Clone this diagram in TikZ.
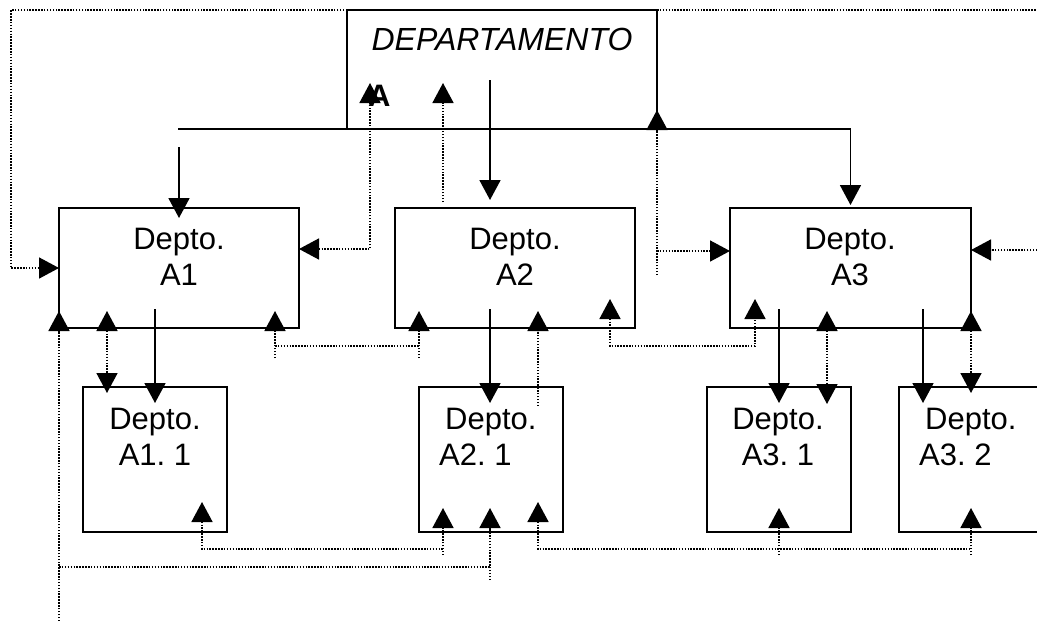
\documentclass[tikz,border=0pt]{standalone}
\usepackage{fontspec}
\setmainfont{Liberation Sans}
\usetikzlibrary{arrows.meta}
\frenchspacing
\begin{document}
\begin{tikzpicture}[x=1pt,y=-1pt,
  box/.style={draw,line width=2pt,inner sep=0pt,outer sep=0pt,anchor=north west},
  lbl/.style={align=center,anchor=base,inner sep=0pt,font=\fontsize{31}{36}\selectfont},
  tipT/.tip={Triangle[length=20pt,width=21pt]},
  sarr/.style={line width=1.8pt,-tipT},
  dl/.style={line width=1.6pt,dash pattern=on 1.5pt off 1.4pt},
  darr/.style={dl,-tipT},
  darr2/.style={dl,tipT-tipT},
  dstart/.style={dl,tipT-}]
\useasboundingbox (0,0) rectangle (1037,621);
\clip (0,0) rectangle (1037,621);
\fill[white] (0,0) rectangle (1037,621);
% boxes
\node[box,minimum width=310pt,minimum height=119pt] (dep) at (347,10) {};
\node[box,minimum width=240pt,minimum height=120pt] (a1) at (59,208) {};
\node[box,minimum width=240pt,minimum height=120pt] (a2) at (395,208) {};
\node[box,minimum width=241pt,minimum height=120pt] (a3) at (730,208) {};
\node[box,minimum width=144pt,minimum height=145pt] (a11) at (83,387) {};
\node[box,minimum width=144pt,minimum height=145pt] (a21) at (419,387) {};
\node[box,minimum width=144pt,minimum height=145pt] (a31) at (707,387) {};
\node[box,minimum width=160pt,minimum height=145pt] (a32) at (899,387) {};
% texts (anchor base = baseline of the last line)
\node[lbl,font=\fontsize{32}{36}\selectfont\itshape] (deptxt) at (502,50) {DEPARTAMENTO};
\node[inner sep=0pt,anchor=base west,font=\fontsize{31}{36}\selectfont\bfseries] (depA) at (368,106) {A};
\node[lbl] (a1t) at (179,285) {Depto.\\A1};
\node[lbl] (a2t) at (515,285) {Depto.\\A2};
\node[lbl] (a3t) at (850,285) {Depto.\\A3};
\node[lbl] (a11t) at (155,465) {Depto.\\A1. 1};
\node[lbl,align=left,anchor=base west] (a21t) at (439,465) {\hspace{6pt}Depto.\\A2. 1};
\node[lbl] (a31t) at (778,465) {Depto.\\A3. 1};
\node[lbl,align=left,anchor=base west] (a32t) at (919,465) {\hspace{6pt}Depto.\\A3. 2};
% free ends
\coordinate (busL) at (178,129);
\coordinate (tl) at (11,10);
\coordinate (tr) at (1037,10);
\coordinate (rr) at (1037,250);
\coordinate (v6) at (657,275);
\coordinate (j6) at (657,251);
\coordinate (bl) at (59,621);
\coordinate (j9) at (59,567);
% solid connectors
\draw[sarr] (busL) -- (busL -| a3.north) -- ([yshift=3pt]a3.north);
\draw[sarr] ([yshift=61pt]a1.north) -- ([yshift=-10pt]a1.north);
\draw[sarr] ([xshift=143pt,yshift=49pt]dep.south west) -- ([xshift=95pt,yshift=8pt]a2.north west);
\draw[sarr] ([xshift=96pt,yshift=19pt]a1.south west) -- ([xshift=72pt,yshift=-16pt]a11.north west);
\draw[sarr] ([xshift=95pt,yshift=19pt]a2.south west) -- ([xshift=71pt,yshift=-16pt]a21.north west);
\draw[sarr] ([xshift=49pt,yshift=19pt]a3.south west) -- ([xshift=72pt,yshift=-16pt]a31.north west);
\draw[sarr] ([xshift=193pt,yshift=19pt]a3.south west) -- ([xshift=24pt,yshift=-16pt]a32.north west);
% dotted connectors
\draw[darr] (dep.north west) -- (tl) |- (a1.west);
\draw[dl] (dep.north east) -- (tr);
\draw[darr] (rr) -- (rr -| a3.east);
\draw[darr2] ([yshift=19pt]a1.east) -| ([xshift=23pt,yshift=46pt]dep.south west);
\draw[darr] ([xshift=48pt,yshift=6pt]a2.north west) -- ([xshift=96pt,yshift=46pt]dep.south west);
\draw[darr] (v6) -- ([yshift=19pt]dep.south east);
\draw[darr] (j6) -- (j6 -| a3.west);
\draw[darr] ([xshift=-24pt,yshift=-30pt]a1.south east) -- ([xshift=-24pt,yshift=17pt]a1.south east);
\draw[darr] ([xshift=24pt,yshift=-30pt]a2.south west) -- ([xshift=24pt,yshift=17pt]a2.south west);
\draw[dl] ([xshift=-24pt,yshift=-18pt]a1.south east) -- ([xshift=24pt,yshift=-18pt]a2.south west);
\draw[darr2] ([xshift=-25pt,yshift=29pt]a2.south east) -- ([xshift=-25pt,yshift=-18pt]a2.south east) -- ([xshift=25pt,yshift=-18pt]a3.south west) -- ([xshift=25pt,yshift=29pt]a3.south west);
\draw[darr] (bl) -- ([yshift=17pt]a1.south west);
\draw[dl] (j9) -- ([xshift=71pt,yshift=-35pt]a21.south west);
\draw[darr] ([xshift=71pt,yshift=-48pt]a21.south west) -- ([xshift=71pt,yshift=24pt]a21.south west);
\draw[darr2] ([xshift=48pt,yshift=17pt]a1.south west) -- ([xshift=24pt,yshift=-6pt]a11.north west);
\draw[darr] ([xshift=119pt,yshift=-19pt]a21.north west) -- ([xshift=143pt,yshift=17pt]a2.south west);
\draw[darr2] ([xshift=97pt,yshift=17pt]a3.south west) -- ([xshift=120pt,yshift=-17pt]a31.north west);
\draw[darr2] ([yshift=17pt]a3.south east) -- ([xshift=72pt,yshift=-6pt]a32.north west);
\draw[dstart] ([xshift=-25pt,yshift=30pt]a11.south east) -- ([xshift=-25pt,yshift=-17pt]a11.south east) -- ([xshift=24pt,yshift=-17pt]a21.south west);
\draw[darr] ([xshift=24pt,yshift=-23pt]a21.south west) -- ([xshift=24pt,yshift=24pt]a21.south west);
\draw[dstart] ([xshift=-25pt,yshift=30pt]a21.south east) -- ([xshift=-25pt,yshift=-17pt]a21.south east) -- ([xshift=72pt,yshift=-17pt]a32.south west);
\draw[darr] ([yshift=-23pt]a31.south) -- ([yshift=24pt]a31.south);
\draw[darr] ([xshift=72pt,yshift=-23pt]a32.south west) -- ([xshift=72pt,yshift=24pt]a32.south west);
\end{tikzpicture}
\end{document}
